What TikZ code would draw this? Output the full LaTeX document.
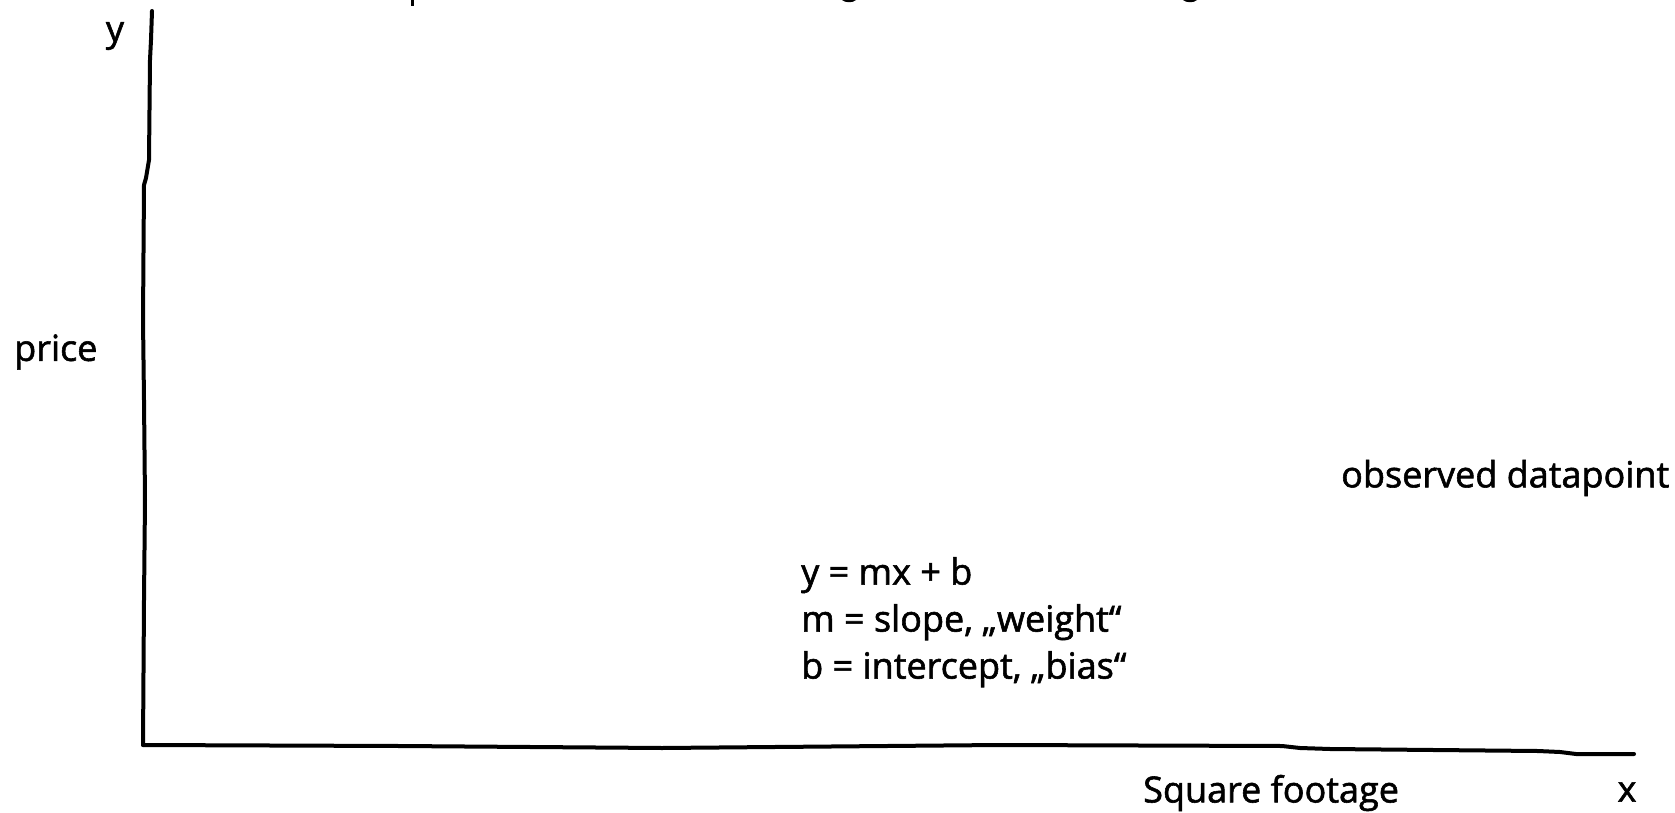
\documentclass[tikz,border=0pt]{standalone}
\usepackage{fontspec}
\setmainfont{Open Sans}[FakeBold=1.6]
\begin{document}
\begin{tikzpicture}[x=1pt,y=-1pt,
  axisline/.style={line width=4pt,line join=round,line cap=round},
  lbl/.style={inner sep=0pt,font=\fontsize{36}{40}\selectfont},
  frag/.style={fill=black}]
\useasboundingbox (0,0) rectangle (1675,813);
% cut-off title fragments
\fill[frag] (411,0) rectangle (414,6);
\fill[frag] (842,0) .. controls (845,3) and (853,3) .. (856,0) -- cycle;
\fill[frag] (1183,0) .. controls (1186,3) and (1194,3) .. (1197,0) -- cycle;
% axes
\coordinate (top) at (152,11);
\coordinate (origin) at (143,745);
\coordinate (xend) at (1634,754);
\draw[axisline] (top) -- (151,40) -- (150,60) -- (149,160) -- (146,178) -- (144,185)
  -- (143,320) -- (144,400) -- (145,500) -- (144,600) -- (origin);
\draw[axisline] (origin) -- (400,746) -- (662,748) -- (999,745) -- (1282,746)
  -- (1300,748) -- (1330,749) -- (1538,751) -- (1560,752) -- (1576,754) -- (xend);
% labels
\node[lbl,anchor=center] (ylab) at (115,36) {y};
\node[lbl,anchor=west] (price) at (14,352) {price};
\node[lbl,anchor=west] (obs) at (1341,478) {observed datapoint};
\node[lbl,anchor=north west,align=left,font=\fontsize{36}{47}\selectfont] (eq) at (801,557)
  {y = mx + b\\m = slope, „weight“\\b = intercept, „bias“};
\node[lbl,anchor=west] (sq) at (1143,793) {Square footage};
\node[lbl,anchor=center] (xlab) at (1627,792) {x};
\end{tikzpicture}
\end{document}
